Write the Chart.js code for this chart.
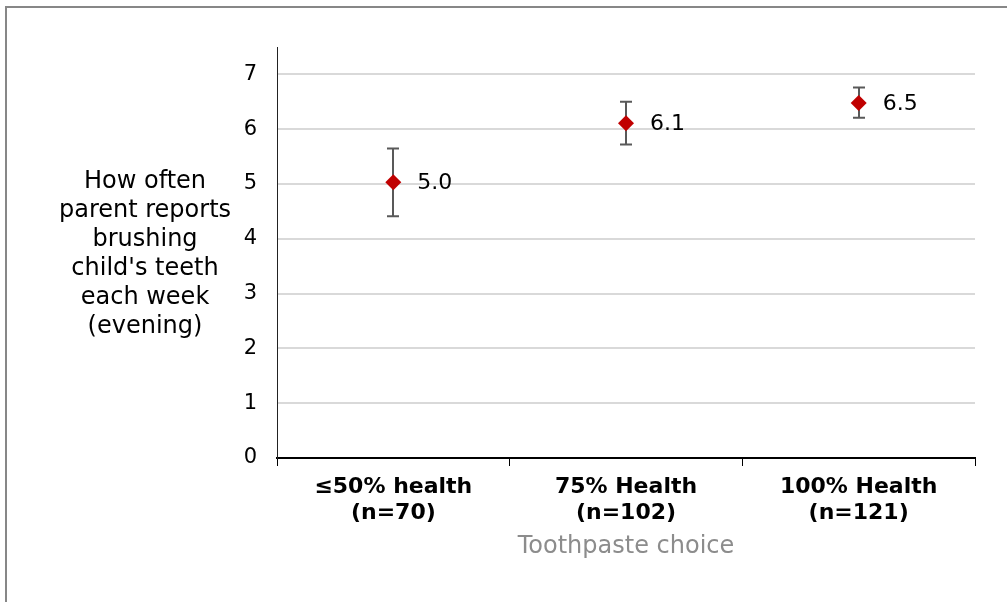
<!DOCTYPE html>
<html>
<head>
<meta charset="utf-8">
<script src="https://cdn.jsdelivr.net/npm/chart.js@4/dist/chart.umd.min.js"></script>
<style>
  html, body { margin: 0; padding: 0; background: #fff; }
  #wrap { width: 1007px; height: 602px; }
</style>
</head>
<body>
<div id="wrap"><canvas id="c" width="1007" height="602"></canvas></div>
<script>
// Toothpaste choice groups (two-line tick labels)
const categories = [
  ['\u226450% health', '(n=70)'],
  ['75% Health', '(n=102)'],
  ['100% Health', '(n=121)']
];
// Mean evening brushing days per week, with interval bounds
const means = [5.03, 6.11, 6.48];
const lower = [4.41, 5.72, 6.21];
const upper = [5.65, 6.50, 6.76];
const yTicks = [0, 1, 2, 3, 4, 5, 6, 7];
const yTitleLines = ['How often', 'parent reports', 'brushing', "child's teeth", 'each week', '(evening)'];
const xTitle = 'Toothpaste choice';

const FONT = '"DejaVu Sans", Verdana, sans-serif';

const framePlugin = {
  id: 'frame',
  beforeDraw(chart) {
    const ctx = chart.ctx;
    ctx.save();
    ctx.fillStyle = '#fff';
    ctx.fillRect(0, 0, chart.width, chart.height);
    ctx.strokeStyle = '#878787';
    ctx.lineWidth = 2;
    ctx.beginPath();
    ctx.moveTo(6, chart.height);
    ctx.lineTo(6, 7);
    ctx.lineTo(chart.width, 7);
    ctx.stroke();
    ctx.restore();
  }
};

const errorBarPlugin = {
  id: 'errorBars',
  beforeDatasetsDraw(chart) {
    const ctx = chart.ctx;
    const xs = chart.scales.x, ys = chart.scales.y;
    ctx.save();
    ctx.strokeStyle = '#595959';
    ctx.lineWidth = 2;
    means.forEach((m, i) => {
      const x = Math.round(xs.getPixelForValue(i));
      const yl = ys.getPixelForValue(lower[i]);
      const yu = ys.getPixelForValue(upper[i]);
      ctx.beginPath();
      ctx.moveTo(x, yl); ctx.lineTo(x, yu);
      ctx.moveTo(x - 6, yl); ctx.lineTo(x + 6, yl);
      ctx.moveTo(x - 6, yu); ctx.lineTo(x + 6, yu);
      ctx.stroke();
    });
    ctx.restore();
  },
  afterDatasetsDraw(chart) {
    const ctx = chart.ctx;
    const xs = chart.scales.x, ys = chart.scales.y;
    ctx.save();
    ctx.fillStyle = '#000';
    ctx.font = '22px ' + FONT;
    ctx.textAlign = 'left';
    ctx.textBaseline = 'middle';
    means.forEach((m, i) => {
      ctx.fillText(m.toFixed(1), xs.getPixelForValue(i) + 24, ys.getPixelForValue(m) + 1);
    });
    // horizontal y-axis title
    ctx.textAlign = 'center';
    ctx.font = '24px ' + FONT;
    yTitleLines.forEach((t, k) => {
      ctx.fillText(t, 145, 182 + k * 29);
    });
    ctx.restore();
  }
};

new Chart(document.getElementById('c'), {
  type: 'line',
  data: {
    labels: categories,
    datasets: [{
      data: means,
      showLine: false,
      pointStyle: 'rectRot',
      pointRadius: 8,
      pointHoverRadius: 8,
      backgroundColor: '#c00000',
      borderColor: '#c00000',
      borderWidth: 0
    }]
  },
  options: {
    responsive: false,
    animation: false,
    events: [],
    layout: { padding: { left: 0, right: 32, top: 47, bottom: 41 } },
    plugins: { legend: { display: false }, tooltip: { enabled: false } },
    scales: {
      x: {
        type: 'category',
        offset: true,
        grid: {
          offset: true,
          drawOnChartArea: false,
          drawTicks: true,
          tickLength: 8,
          color: '#000',
          lineWidth: 1
        },
        border: { color: '#000', width: 2 },
        ticks: {
          color: '#000',
          font: { family: FONT, size: 22, weight: 'bold', lineHeight: 1.18 },
          padding: 8,
          maxRotation: 0,
          autoSkip: false
        },
        title: {
          display: true,
          text: xTitle,
          color: '#8c8c8c',
          font: { family: FONT, size: 24 },
          padding: 0
        },
        afterFit(scale) { scale.height = 602 - 41 - 458; }
      },
      y: {
        min: 0,
        max: 7.5,
        afterBuildTicks(scale) { scale.ticks = yTicks.map(v => ({ value: v })); },
        grid: { color: '#d9d9d9', lineWidth: 2, drawTicks: false },
        border: { color: '#222', width: 1 },
        ticks: {
          color: '#000',
          font: { family: FONT, size: 21 },
          padding: 20
        },
        afterFit(scale) { scale.width = 277; }
      }
    }
  },
  plugins: [framePlugin, errorBarPlugin]
});
</script>
</body>
</html>
